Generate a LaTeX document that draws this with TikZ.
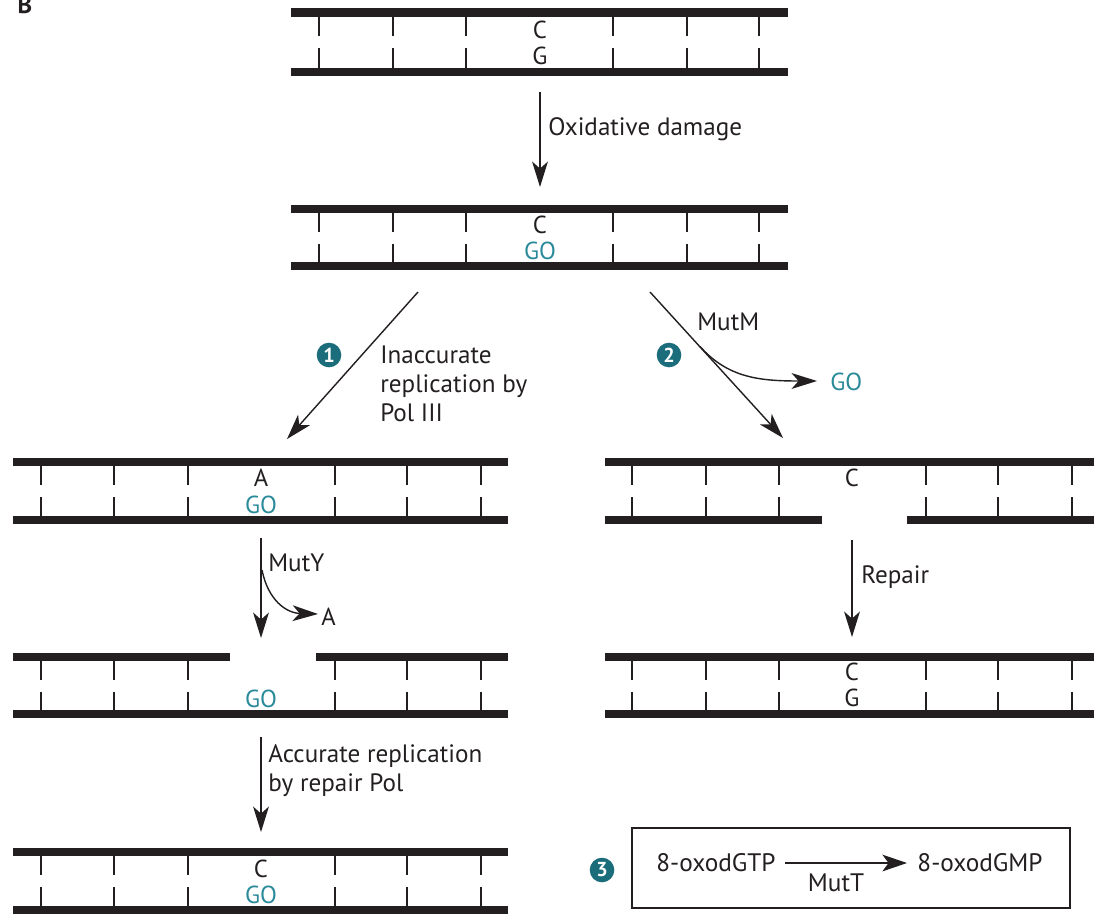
\documentclass[tikz,border=0pt]{standalone}
\usepackage{fontspec}
\setmainfont{PT Sans}
\usetikzlibrary{arrows.meta}
\definecolor{ink}{HTML}{231F20}
\definecolor{gocol}{HTML}{2A8A9A}
\definecolor{badgecol}{HTML}{1B6D7B}
\tikzset{
  strand/.style={line width=4.7pt, draw=ink},
  rung/.style={line width=0.9pt, draw=ink},
  flow/.style={line width=0.8pt, draw=ink, -{Stealth[length=14.5pt,width=9pt,inset=4pt]}},
  bigflow/.style={flow, -{Stealth[length=14pt,width=9.5pt,inset=3.5pt]}},
  base/.style={font=\fontsize{14}{16.5}\selectfont, text=ink, inner sep=0pt},
  boxtext/.style={base, font=\fontsize{14.4}{15}\selectfont},
  lesion/.style={base, text=gocol},
  caption/.style={base, anchor=west, align=left, font=\fontsize{14.3}{16.6}\selectfont},
  badge/.style={circle, fill=badgecol, text=white, inner sep=0pt, minimum size=14pt,
    font=\bfseries\fontsize{11.5}{11.5}\selectfont},
}
% rungs of a duplex: x positions, y of top strand, y of bottom strand
\newcommand{\duplexrungs}[3]{%
  \foreach \rx in {#1}{%
    \draw[rung] (\rx,{#2+4}) -- (\rx,{(#2+#3)/2-6});
    \draw[rung] (\rx,{(#2+#3)/2+6}) -- (\rx,{#3-4});
  }}
\begin{document}
\begin{tikzpicture}[x=0.02cm, y=-0.02cm]
\useasboundingbox (0,0) rectangle (1094,913);

\node[base, font=\bfseries\fontsize{14}{15}\selectfont, anchor=south] (panel) at (25,14) {B};

% intact duplex
\draw[strand] (291,12.5) -- (788,12.5);
\draw[strand] (291,72) -- (788,72);
\duplexrungs{319,393,466,613,687,759}{12.5}{72}
\node[base] (c1) at (540,30) {C};
\node[base] (g1) at (540,56) {G};

% oxidative damage
\coordinate (a1s) at (540,92);
\coordinate (a1e) at (540,187);
\draw[flow] (a1s) -- (a1e);
\node[caption] (lox) at (548,129) {Oxidative damage};

% duplex carrying 8-oxoG
\draw[strand] (291,209) -- (788,209);
\draw[strand] (291,266) -- (788,266);
\duplexrungs{319,393,466,613,687,759}{209}{266}
\node[base] (c2) at (540,225) {C};
\node[lesion] (go2) at (540,251) {GO};

% pathway 1: mispairing by Pol III
\coordinate (b1s) at (418,292);
\coordinate (b1e) at (287,439);
\draw[flow] (b1s) -- (b1e);
\node[badge] (n1) at (329,355) {1};
\node[caption] (lpol) at (380,384) {Inaccurate\\replication by\\Pol III};

% pathway 2: MutM removes 8-oxoG
\coordinate (b2s) at (650,292);
\coordinate (b2e) at (783,438);
\coordinate (b2m) at (700,346.5);
\coordinate (b2go) at (817,381);
\draw[flow] (b2s) -- (b2e);
\draw[flow] (b2m) .. controls (728,378) and (760,381) .. (b2go);
\node[badge] (n2) at (669,355) {2};
\node[caption] (lmutm) at (697,322) {MutM};
\node[lesion, anchor=west] (goout) at (830,382) {GO};

% A opposite GO
\draw[strand] (13,462) -- (508,462);
\draw[strand] (13,520) -- (508,520);
\duplexrungs{41,114,188,335,407,481}{462}{520}
\node[base] (a3) at (261,478) {A};
\node[lesion] (go3) at (261,505) {GO};

% gapped strand after MutM
\draw[strand] (605,462) -- (1100,462);
\draw[strand] (605,520) -- (822,520);
\draw[strand] (907,520) -- (1100,520);
\duplexrungs{632,706,779,926,998,1072}{462}{520}
\node[base] (c4) at (852,478) {C};

% MutY removes A
\coordinate (c1s) at (261,538);
\coordinate (c1e) at (261,638);
\coordinate (c1m) at (262,570);
\coordinate (c1a) at (318,614);
\draw[flow] (c1s) -- (c1e);
\draw[flow] (c1m) .. controls (268,600) and (286,613) .. (c1a);
\node[caption] (lmuty) at (268,563) {MutY};
\node[base, anchor=west] (aout) at (321,617) {A};

% repair of the gap
\coordinate (d1s) at (852,540);
\coordinate (d1e) at (852,637);
\draw[flow] (d1s) -- (d1e);
\node[caption] (lrep) at (861,577) {Repair};

% gapped top strand opposite GO
\draw[strand] (13,657) -- (230,657);
\draw[strand] (316,657) -- (508,657);
\draw[strand] (13,714) -- (508,714);
\duplexrungs{41,114,188,335,407,481}{657}{714}
\node[lesion] (go5) at (261,699) {GO};

% restored C:G pair
\draw[strand] (605,657) -- (1100,657);
\draw[strand] (605,714) -- (1100,714);
\duplexrungs{632,706,779,926,998,1072}{657}{714}
\node[base] (c6) at (852,672) {C};
\node[base] (g6) at (852,698) {G};

% accurate replication
\coordinate (e1s) at (261,737);
\coordinate (e1e) at (261,832);
\draw[flow] (e1s) -- (e1e);
\node[caption] (lacc) at (268,771) {Accurate replication\\by repair Pol};

% C opposite GO
\draw[strand] (13,852) -- (508,852);
\draw[strand] (13,910) -- (508,910);
\duplexrungs{41,114,188,335,407,481}{852}{910}
\node[base] (c7) at (261,869) {C};
\node[lesion] (go7) at (261,895) {GO};

% pathway 3: MutT sanitises the nucleotide pool
\node[badge] (n3) at (602,870) {3};
\node[draw=ink, line width=1.3pt, minimum width=8.76cm, minimum height=1.6cm, inner sep=0pt] (mutbox) at (851,868) {};
\node[boxtext] (gtp) at (716,863) {8-oxodGTP};
\node[boxtext] (gmp) at (980,863) {8-oxodGMP};
\coordinate (ts) at (785,863);
\coordinate (te) at (907,863);
\draw[bigflow] (ts) -- (te);
\node[boxtext] (lmutt) at (836,883) {MutT};
\end{tikzpicture}
\end{document}
